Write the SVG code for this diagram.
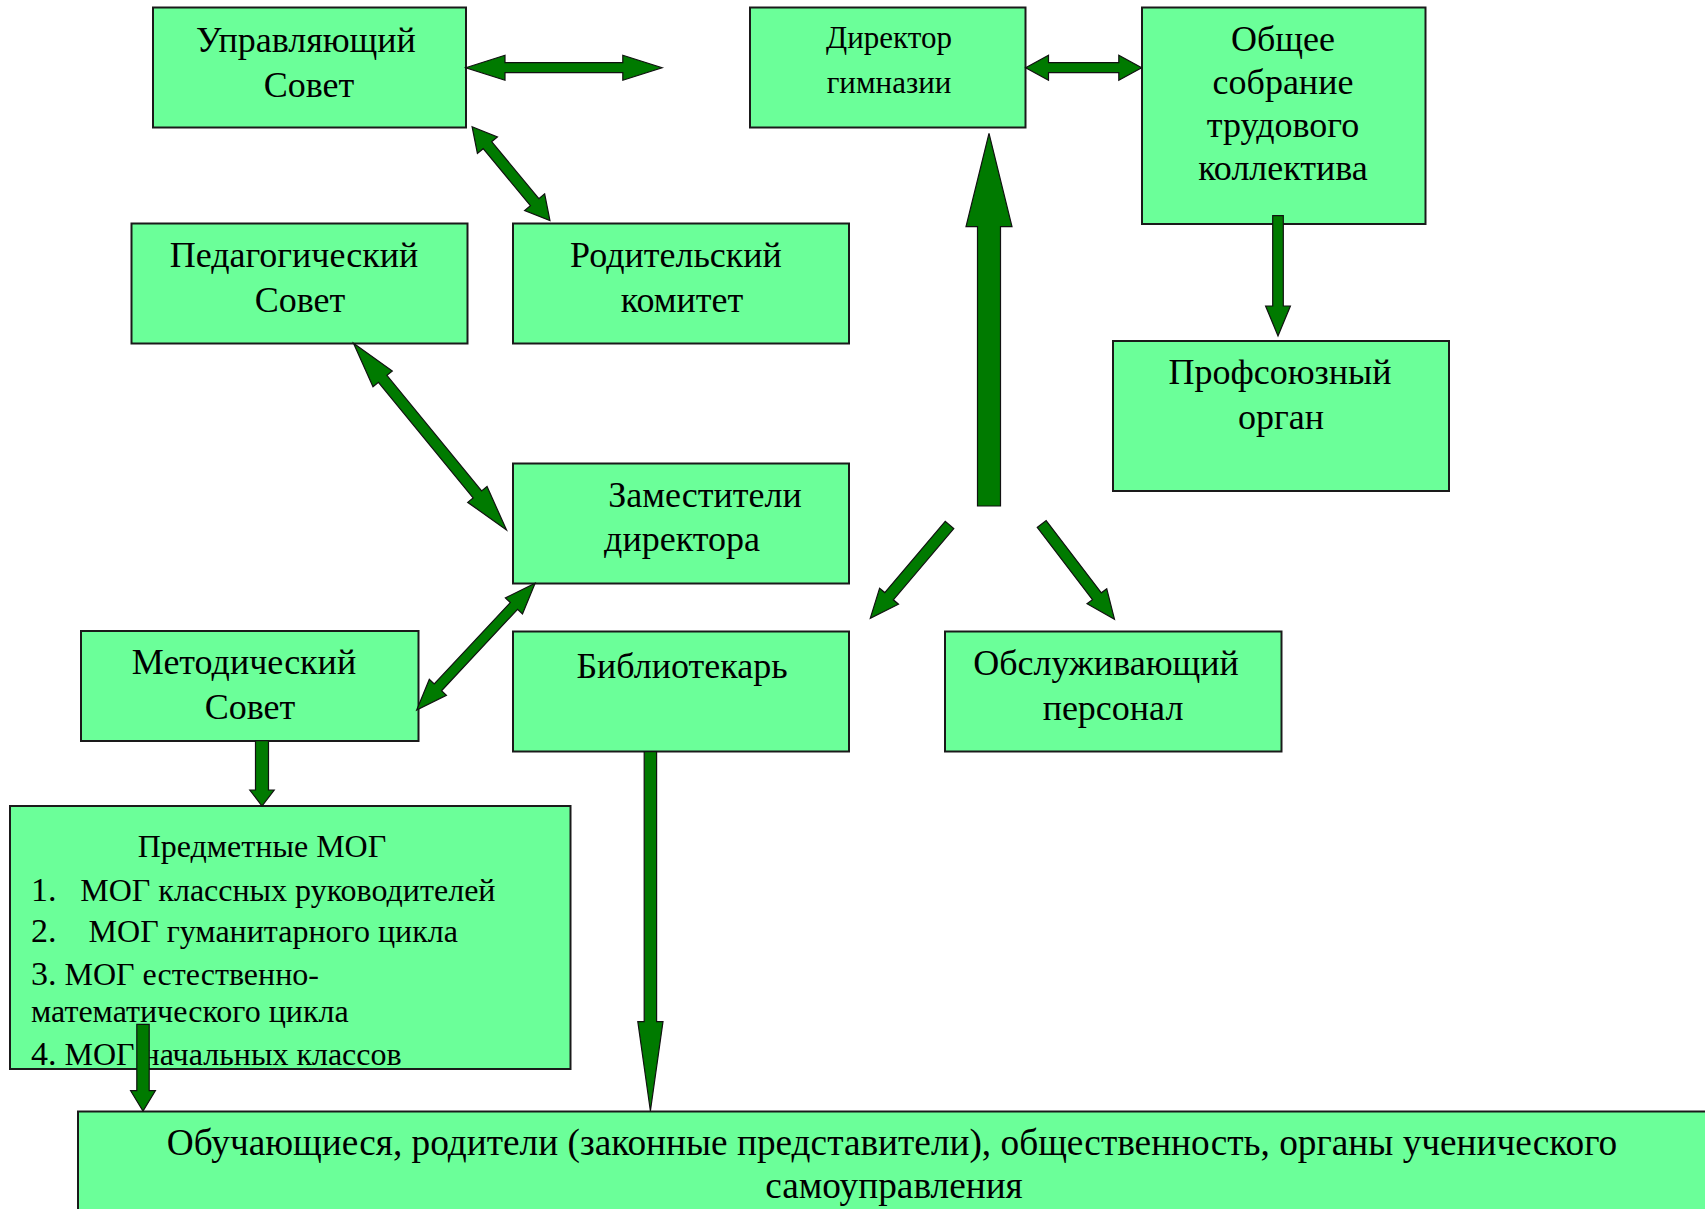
<svg xmlns="http://www.w3.org/2000/svg" width="1705" height="1209" viewBox="0 0 1705 1209">
<style>
.box{fill:#6BFF99;stroke:#1a1a1a;stroke-width:2}
.arr{fill:#007A00;stroke:#111;stroke-width:1.2;stroke-linejoin:miter}
text{font-family:"Liberation Serif","Times New Roman",serif;fill:#000}
.t{font-size:36px;text-anchor:middle}
.s{font-size:32px}
</style>
<rect width="1705" height="1209" fill="#fff"/>
<g id="nodes">
<g id="upr"><rect class="box" x="153" y="7.5" width="313" height="120"/>
<text class="t" x="306" y="51.7">Управляющий</text><text class="t" x="309" y="96.7">Совет</text></g>
<g id="ped"><rect class="box" x="131.5" y="223.5" width="336" height="120"/>
<text class="t" x="294" y="266.7">Педагогический</text><text class="t" x="300" y="311.7">Совет</text></g>
<g id="rod"><rect class="box" x="513" y="223.5" width="336" height="120"/>
<text class="t" x="676" y="266.7">Родительский</text><text class="t" x="682" y="311.7">комитет</text></g>
<g id="dir"><rect class="box" x="750" y="7.5" width="275.5" height="120"/>
<text class="t" x="889" y="48.3" style="font-size:31px">Директор</text><text class="t" x="889" y="93.3" style="font-size:31px">гимназии</text></g>
<g id="obsch"><rect class="box" x="1142" y="7.5" width="283.5" height="216.5"/>
<text class="t" x="1283" y="51">Общее</text><text class="t" x="1283" y="94">собрание</text><text class="t" x="1283" y="137">трудового</text><text class="t" x="1283" y="180">коллектива</text></g>
<g id="prof"><rect class="box" x="1113" y="341" width="336" height="150"/>
<text class="t" x="1280" y="384.4">Профсоюзный</text><text class="t" x="1281" y="429.4">орган</text></g>
<g id="zam"><rect class="box" x="513" y="463.5" width="336" height="120"/>
<text class="t" x="705" y="507">Заместители</text><text class="t" x="682" y="551">директора</text></g>
<g id="met"><rect class="box" x="81" y="631" width="337.5" height="110"/>
<text class="t" x="244" y="674">Методический</text><text class="t" x="250" y="719.3">Совет</text></g>
<g id="bib"><rect class="box" x="513" y="631.5" width="336" height="120"/>
<text class="t" x="682" y="677.7">Библиотекарь</text></g>
<g id="obsl"><rect class="box" x="945" y="631.5" width="336.5" height="120"/>
<text class="t" x="1106" y="675">Обслуживающий</text><text class="t" x="1113" y="720">персонал</text></g>
<g id="mog"><rect class="box" x="10" y="806" width="560.5" height="263"/>
<text class="s" x="137.7" y="856.7">Предметные МОГ</text>
<text class="s" x="31" y="900.7" style="font-size:34px">1.</text><text class="s" x="80.3" y="900.7">МОГ классных руководителей</text>
<text class="s" x="31" y="941.7" style="font-size:34px">2.</text><text class="s" x="88.6" y="941.7">МОГ гуманитарного цикла</text>
<text class="s" x="31" y="985"><tspan style="font-size:34px">3.</tspan> МОГ естественно-</text>
<text class="s" x="31" y="1021.7">математического цикла</text>
<text class="s" x="31" y="1065"><tspan style="font-size:34px">4.</tspan> МОГ начальных классов</text></g>
<g id="uch"><rect class="box" x="78" y="1111.5" width="1650" height="120"/>
<text class="t" x="892" y="1155" style="font-size:37.3px">Обучающиеся, родители (законные представители), общественность, органы ученического</text>
<text class="t" x="894" y="1198.3" style="font-size:37.3px">самоуправления</text></g>
</g>
<g id="connectors">
<polygon class="arr" transform="translate(465.7,67.7)" points="0,0 39.3,-12.5 39.3,-5 157.1,-5 157.1,-12.5 196.4,0 157.1,12.5 157.1,5 39.3,5 39.3,12.5"/>
<polygon class="arr" transform="translate(1025.6,67.7)" points="0,0 22.9,-12.5 22.9,-5 93.2,-5 93.2,-12.5 116.1,0 93.2,12.5 93.2,5 22.9,5 22.9,12.5"/>
<polygon class="arr" transform="translate(472.1,126.7) rotate(50.35)" points="0,0 24,-13 24,-5.5 98,-5.5 98,-13 122,0 98,13 98,5.5 24,5.5 24,13"/>
<polygon class="arr" transform="translate(353.5,343.3) rotate(50.66)" points="0,0 46,-12.5 46,-5.5 195.4,-5.5 195.4,-12.5 241.4,0 195.4,12.5 195.4,5.5 46,5.5 46,12.5"/>
<polygon class="arr" transform="translate(535.1,583.3) rotate(133.06)" points="0,0 31,-11.7 31,-5 142.4,-5 142.4,-11.7 173.4,0 142.4,11.7 142.4,5 31,5 31,11.7"/>
<polygon class="arr" transform="translate(989,506) rotate(-90)" points="0,-11.5 279.3,-11.5 279.3,-23 372.7,0 279.3,23 279.3,11.5 0,11.5"/>
<polygon class="arr" transform="translate(1278,215.7) rotate(90)" points="0,-5.3 90.3,-5.3 90.3,-12.4 120.3,0 90.3,12.4 90.3,5.3 0,5.3"/>
<polygon class="arr" transform="translate(949.5,525) rotate(130.33)" points="0,-5.6 93.4,-5.6 93.4,-12.4 122.4,0 93.4,12.4 93.4,5.6 0,5.6"/>
<polygon class="arr" transform="translate(1041.7,524) rotate(52.62)" points="0,-5.6 90.9,-5.6 90.9,-12.4 119.9,0 90.9,12.4 90.9,5.6 0,5.6"/>
<polygon class="arr" transform="translate(262,740.7) rotate(90)" points="0,-6.5 49.3,-6.5 49.3,-12.2 65.3,0 49.3,12.2 49.3,6.5 0,6.5"/>
<polygon class="arr" transform="translate(143,1024.3) rotate(90)" points="0,-6.2 66.4,-6.2 66.4,-12.4 86.7,0 66.4,12.4 66.4,6.2 0,6.2"/>
<polygon class="arr" transform="translate(650.4,751.7) rotate(90)" points="0,-6.2 270,-6.2 270,-12.6 359.3,0 270,12.6 270,6.2 0,6.2"/>
</g>
</svg>
